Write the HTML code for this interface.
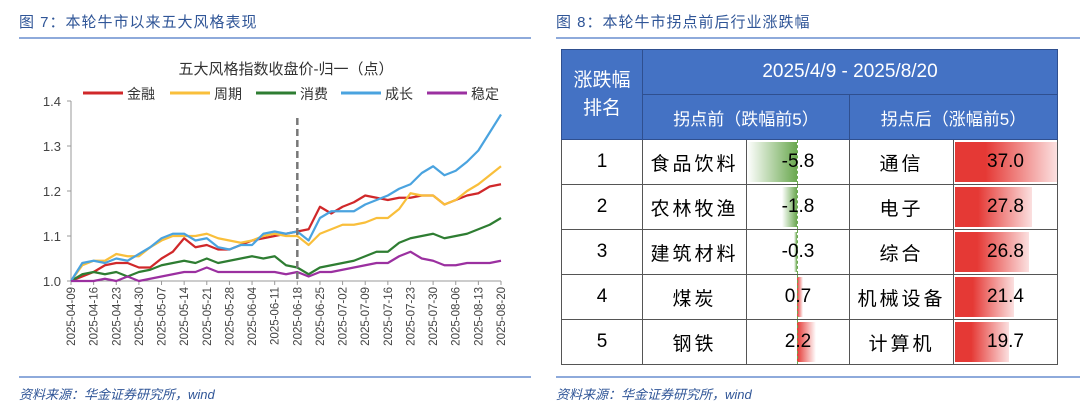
<!DOCTYPE html>
<html><head><meta charset="utf-8"><style>
body{margin:0;width:1080px;height:411px;background:#fff;position:relative;overflow:hidden;font-family:"Liberation Sans","Noto Sans CJK SC",sans-serif}
.h{position:absolute;top:11px;font-size:15px;color:#2f5597;letter-spacing:1px}
.ln{position:absolute;height:1.5px;background:#8eaadb}
.f{position:absolute;top:384px;font-size:13px;color:#2f5597;font-style:italic}
table{position:absolute;left:561px;top:49px;border-collapse:collapse;width:497px;table-layout:fixed}
td{border:1.5px solid #555;text-align:center;padding:0;position:relative;font-size:19px;color:#000;height:44px}
.hd td{background:#4472c4;color:#fff;font-size:17px;border-color:#2f4f8f}
.cell{position:relative;z-index:1}
.bar{position:absolute;top:2px;bottom:2px}
</style></head><body>
<div class="h" style="left:19px">图 7：本轮牛市以来五大风格表现</div>
<div class="h" style="left:556px">图 8：本轮牛市拐点前后行业涨跌幅</div>
<div class="ln" style="left:19px;top:37px;width:512px"></div>
<div class="ln" style="left:556px;top:37px;width:524px"></div>
<div class="ln" style="left:19px;top:376px;width:512px"></div>
<div class="ln" style="left:556px;top:376px;width:524px"></div>
<div class="f" style="left:19px">资料来源：华金证券研究所，wind</div>
<div class="f" style="left:556px">资料来源：华金证券研究所，wind</div>

<svg id="chart" width="540" height="370" style="position:absolute;left:0;top:0" font-family="Liberation Sans, Noto Sans CJK SC, sans-serif"></svg>

<table>
<colgroup><col style="width:81px"><col style="width:104px"><col style="width:103px"><col style="width:104px"><col style="width:104px"></colgroup>
<tr class="hd"><td rowspan="2" style="font-size:19px;line-height:28px">涨跌幅<br>排名</td><td colspan="4" style="font-size:19px">2025/4/9 - 2025/8/20</td></tr>
<tr class="hd"><td colspan="2">拐点前（跌幅前5）</td><td colspan="2">拐点后（涨幅前5）</td></tr>
<tbody id="tb"></tbody>
</table>

<script>
const dates=["2025-04-09","2025-04-16","2025-04-23","2025-04-30","2025-05-07","2025-05-14","2025-05-21","2025-05-28","2025-06-04","2025-06-11","2025-06-18","2025-06-25","2025-07-02","2025-07-09","2025-07-16","2025-07-23","2025-07-30","2025-08-06","2025-08-13","2025-08-20"];
const yTicks=[1.0,1.1,1.2,1.3,1.4];
const finance=[1.0,1.01,1.02,1.035,1.04,1.04,1.03,1.03,1.05,1.065,1.095,1.075,1.08,1.07,1.07,1.08,1.09,1.095,1.10,1.105,1.11,1.115,1.165,1.15,1.165,1.175,1.19,1.185,1.18,1.185,1.185,1.19,1.19,1.17,1.18,1.19,1.195,1.21,1.215];
const cyclical=[1.0,1.035,1.045,1.045,1.06,1.055,1.055,1.075,1.09,1.10,1.10,1.10,1.105,1.095,1.09,1.085,1.09,1.10,1.105,1.10,1.10,1.08,1.105,1.115,1.125,1.125,1.13,1.14,1.14,1.16,1.195,1.19,1.19,1.17,1.18,1.20,1.215,1.235,1.255];
const consumer=[1.0,1.015,1.02,1.015,1.02,1.01,1.02,1.025,1.035,1.04,1.045,1.04,1.05,1.04,1.045,1.05,1.055,1.05,1.055,1.035,1.03,1.015,1.03,1.035,1.04,1.045,1.055,1.065,1.065,1.085,1.095,1.10,1.105,1.095,1.10,1.105,1.115,1.125,1.14];
const growth=[1.0,1.04,1.045,1.04,1.05,1.045,1.06,1.075,1.095,1.105,1.105,1.09,1.095,1.075,1.07,1.08,1.08,1.105,1.11,1.105,1.11,1.09,1.14,1.155,1.155,1.155,1.17,1.18,1.19,1.205,1.215,1.24,1.255,1.235,1.245,1.265,1.29,1.33,1.37];
const stable=[1.0,0.998,1.0,1.005,1.0,1.01,0.998,1.005,1.01,1.015,1.02,1.02,1.03,1.02,1.02,1.02,1.02,1.02,1.02,1.015,1.02,1.01,1.02,1.02,1.025,1.03,1.035,1.04,1.04,1.055,1.065,1.05,1.045,1.035,1.035,1.04,1.04,1.04,1.045];
const seriesNames=["金融","周期","消费","成长","稳定"];
const seriesColors=["#d0282a","#f9bf3b","#2e7d32","#4aa3df","#9b30a0"];
const pivotIndex=20;

const NS="http://www.w3.org/2000/svg",svg=document.getElementById('chart');
const X0=71,X1=501,Y0=281,Y1=101,ymin=1.0,ymax=1.4;
const n=finance.length;
const xs=i=>X0+(X1-X0)*i/(n-1);
const xd=i=>X0+(X1-X0)*i/(dates.length-1);
const ys=v=>Y0-(Math.max(v,ymin)-ymin)/(ymax-ymin)*(Y0-Y1);
function mk(t,a,p){const e=document.createElementNS(NS,t);for(const k in a)e.setAttribute(k,a[k]);(p||svg).appendChild(e);return e;}
let e=mk('text',{x:286,y:74,'text-anchor':'middle','font-size':15,fill:'#333'});e.textContent='五大风格指数收盘价-归一（点）';


const lx=[83,170,256,341,427];
seriesNames.forEach((s,i)=>{
 const g=mk('g',{});
 
 
 mk('line',{x1:lx[i],x2:lx[i]+40,y1:93,y2:93,stroke:seriesColors[i],'stroke-width':3},g);
 const t=mk('text',{x:lx[i]+44,y:99,'font-size':14,fill:'#333'},g);t.textContent=s;
});
yTicks.forEach(v=>{
 const t=mk('text',{x:61,y:ys(v)+5,'text-anchor':'end','font-size':13,fill:'#444'});t.textContent=v.toFixed(1);
 
 
 mk('line',{x1:X0-4,x2:X0,y1:ys(v),y2:ys(v),stroke:'#999'});
});
let a=mk('line',{x1:X0,x2:X0,y1:Y1,y2:Y0,stroke:'#999'});


a=mk('line',{x1:X0,x2:X1,y1:Y0,y2:Y0,stroke:'#999'});


dates.forEach((d,i)=>{
 mk('line',{x1:xd(i),x2:xd(i),y1:Y0,y2:Y0+4,stroke:'#999'});
 const t=mk('text',{x:0,y:0,'font-size':11.5,fill:'#444','text-anchor':'end',transform:`translate(${xd(i)+4},${Y0+6}) rotate(-90)`});t.textContent=d;
 
 
});
[finance,cyclical,consumer,growth,stable].forEach((arr,si)=>{
 const p=mk('polyline',{points:arr.map((v,i)=>xs(i)+','+ys(v)).join(' '),fill:'none',stroke:seriesColors[si],'stroke-width':2.2,'stroke-linejoin':'round'});
 
 
});
const dl=mk('line',{x1:xs(pivotIndex),x2:xs(pivotIndex),y1:118,y2:Y0,stroke:'#777','stroke-width':2.5,'stroke-dasharray':'7,4'});



// table data
const ranks=[1,2,3,4,5];
const beforeNames=["食品饮料","农林牧渔","建筑材料","煤炭","钢铁"];
const beforeVals=[-5.8,-1.8,-0.3,0.7,2.2];
const afterNames=["通信","电子","综合","机械设备","计算机"];
const afterVals=[37.0,27.8,26.8,21.4,19.7];
const tb=document.getElementById('tb');
ranks.forEach((r,i)=>{
 const tr=document.createElement('tr');
 
 
 const bv=beforeVals[i],zero=50,sc=8.6;
 const bar=bv<0?`<div class="bar" style="left:${zero+bv*sc}px;width:${-bv*sc}px;background:linear-gradient(to left,#6aa84f,#fff)"></div>`:`<div class="bar" style="left:${zero}px;width:${bv*sc}px;background:linear-gradient(to right,#e53935,#fff)"></div>`;
 const aw=afterVals[i]*2.76;
 tr.innerHTML=`<td>${r}</td><td style="letter-spacing:3px">${beforeNames[i]}</td><td>${bar}<div style="position:absolute;left:${zero}px;top:0;bottom:0;border-left:1px dashed #6aa84f"></div><span class="cell">${bv.toFixed(1)}</span></td><td style="letter-spacing:3px">${afterNames[i]}</td><td><div class="bar" style="left:1px;width:${aw}px;background:linear-gradient(to right,#e53935 30%,#fbe0e0)"></div><span class="cell">${afterVals[i].toFixed(1)}</span></td>`;
 tb.appendChild(tr);
});
</script>
</body></html>
